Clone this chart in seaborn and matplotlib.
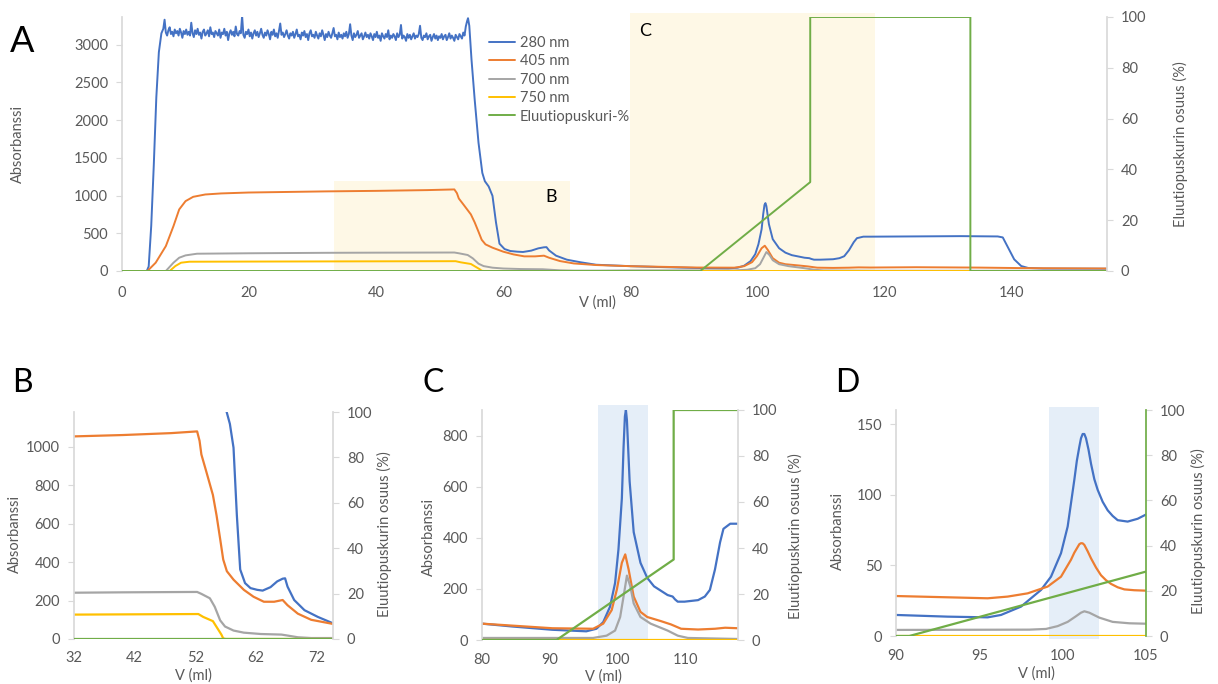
import numpy as np
import pandas as pd
import matplotlib
matplotlib.use("Agg")
import matplotlib.pyplot as plt
import seaborn as sns

# ---------------- main run (panels A, B, C) ----------------
# 280 nm: loading front, noisy saturated plateau, then wash / elution
v280_head = [0, 3.9, 4.2, 4.6, 5.0, 5.4, 5.8, 6.2]
a280_head = [0, 0, 60, 600, 1400, 2300, 2900, 3150]

plateau_start, plateau_end = 6.5, 54.3
a280_plateau = [
    3210, 3330, 3160, 3120, 3190, 3230, 3140, 3170, 3110, 3200, 3150, 3180, 3120, 3210, 3160, 3090, 3180, 3140, 3200, 3130,
    3170, 3120, 3290, 3150, 3100, 3190, 3140, 3210, 3130, 3160, 3080, 3170, 3200, 3120, 3150, 3190, 3110, 3230, 3140, 3160,
    3100, 3180, 3150, 3120, 3200, 3090, 3160, 3140, 3210, 3120, 3170, 3060, 3150, 3190, 3130, 3170, 3110, 3240, 3140, 3120,
    3180, 3150, 3380, 3130, 3090, 3170, 3140, 3200, 3110, 3160, 3080, 3150, 3190, 3120, 3170, 3100, 3150, 3210, 3130, 3090,
    3160, 3120, 3190, 3140, 3070, 3170, 3130, 3200, 3110, 3150, 3090, 3180, 3280, 3130, 3160, 3100, 3140, 3190, 3120, 3080,
    3150, 3120, 3170, 3090, 3140, 3200, 3110, 3130, 3070, 3160, 3120, 3180, 3100, 3140, 3060, 3150, 3190, 3110, 3130, 3090,
    3170, 3120, 3080, 3150, 3110, 3190, 3130, 3060, 3140, 3100, 3170, 3120, 3090, 3150, 3220, 3110, 3130, 3070, 3160, 3100,
    3130, 3080, 3150, 3110, 3170, 3090, 3140, 3270, 3120, 3060, 3150, 3100, 3130, 3180, 3090, 3120, 3150, 3070, 3110, 3160,
    3100, 3130, 3080, 3150, 3110, 3060, 3140, 3100, 3170, 3090, 3120, 3050, 3150, 3110, 3080, 3140, 3100, 3190, 3070, 3120,
    3090, 3140, 3110, 3060, 3150, 3100, 3130, 3260, 3080, 3120, 3100, 3050, 3140, 3090, 3130, 3070, 3110, 3150, 3080, 3120,
    3100, 3140, 3250, 3090, 3060, 3120, 3100, 3150, 3070, 3110, 3130, 3050, 3100, 3140, 3080, 3120, 3060, 3110, 3090, 3140,
    3070, 3110, 3130, 3060, 3100, 3150, 3080, 3120, 3090, 3050, 3130, 3100, 3070, 3140, 3110, 3080, 3160, 3120, 3240, 3310,
]

v280_tail = [54.45, 54.65, 55.0, 55.5, 56.1, 56.7, 57.1, 57.7, 58.3, 58.85, 59.4, 60.2, 61.1, 62.2, 63.1, 64.4,
             65.5, 66.4, 66.8, 67.2, 68.3, 70.0, 72.2, 74.6, 80, 84.4, 90.4, 95.4, 96.9, 97.9, 98.9, 99.65,
             100.15, 100.65, 100.9, 101.1, 101.25, 101.4, 101.8, 102.4, 103.4, 104.4, 105.4, 107.4, 108.15,
             108.5, 108.9, 109.9, 111.9, 112.9, 113.65, 114.4, 115.15, 115.65, 116.65, 117.8, 125, 132,
             137.8, 138.6, 139.3, 140.4, 141.5, 142.6, 145, 155]
a280_tail = [3350, 3250, 2800, 2270, 1700, 1300, 1190, 1120, 996, 644, 362, 291, 265, 256, 252, 270,
             300, 314, 316, 273, 203, 150, 115, 83, 64, 53, 40, 34, 44, 70, 130, 223,
             355, 554, 753, 875, 900, 860, 620, 422, 302, 243, 210, 176, 170,
             159, 150, 150, 156, 170, 196, 276, 382, 435, 455, 455, 458, 462,
             458, 445, 331, 154, 66, 40, 32, 30]

v405 = [0, 4.0, 5.3, 6.9, 8.1, 9.0, 10.0, 11.2, 13.1, 15.6, 19.9, 32, 40, 48, 52.3, 52.7, 53.0, 53.8,
        54.9, 55.5, 56.1, 56.6, 57.2, 58.3, 60.0, 61.6, 63.3, 65.0, 66.4, 67.2, 68.9, 71.1, 74.6, 80,
        90.4, 96.4, 97.9, 99.15, 99.9, 100.65, 101.15, 101.65, 102.4, 103.4, 104.4, 106.4, 107.9, 109.4,
        111.9, 114.4, 115.9, 117.8, 125, 135, 142, 155]
a405 = [0, 0, 110, 330, 595, 816, 926, 983, 1014, 1028, 1040, 1055, 1062, 1072, 1081, 1032, 961, 873,
        750, 644, 520, 414, 353, 309, 256, 220, 194, 194, 203, 176, 132, 100, 79, 64,
        46, 44, 64, 117, 196, 302, 335, 276, 170, 110, 90, 74, 61, 44,
        41, 44, 48, 46, 50, 45, 38, 33]

v700 = [0, 6.9, 8.1, 9.0, 10.0, 11.8, 20, 32, 40, 52.3, 53.0, 54.4, 55.2, 56.1, 56.9, 58.3, 60.0,
        62.8, 66.2, 67.2, 68.9, 71.1, 75, 80, 96.4, 98.4, 99.65, 100.4, 100.9, 101.4, 101.9, 102.4,
        103.4, 104.9, 107.4, 108.9, 110.4, 117.8, 155]
a700 = [0, 0, 110, 176, 207, 229, 235, 241, 243, 245, 235, 212, 168, 97, 65, 44, 33,
        26, 23, 18, 9, 5, 5, 8, 8, 17, 37, 90, 170, 252, 210, 143,
        90, 64, 37, 17, 8, 4, 3]

v750 = [0, 7.5, 8.4, 9.3, 10.6, 20, 32, 52.5, 53.3, 54.9, 55.7, 56.3, 56.6, 57.0, 155]
a750 = [0, 0, 66, 110, 123, 125, 127, 130, 115, 93, 53, 23, 3, 0, 0]

# elution buffer share (%)
v_elu = [0, 91, 108.3, 108.3, 133.5, 133.5, 155]
p_elu = [0, 0, 35, 100, 100, 0, 0]

# ---------------- second run (panel D) ----------------
d_v280 = [90, 93.1, 95.5, 96.3, 97.5, 98.7, 99.3, 99.9, 100.3, 100.7, 100.85, 101.0, 101.1, 101.2, 101.3,
          101.4, 101.55, 101.7, 101.9, 102.1, 102.4, 102.7, 103.0, 103.3, 103.9, 104.5, 105]
d_a280 = [14.9, 13.7, 13.2, 14.9, 20.8, 32.6, 42, 58.6, 77.5, 110.6, 124, 134, 140, 143, 143,
          140, 132, 122, 111, 103.5, 95, 89, 85, 82, 81, 83, 86]
d_v405 = [90, 93.1, 95.5, 96.7, 97.9, 99.1, 99.9, 100.5, 100.7, 100.9, 101.0, 101.1, 101.2, 101.3,
          101.5, 101.7, 102.0, 102.3, 102.6, 102.9, 103.3, 103.7, 104.3, 105]
d_a405 = [28.3, 27.4, 26.7, 27.9, 30.2, 35, 42, 54, 59, 63, 65, 65.7, 65.6, 64.5,
          60, 55, 48.5, 43, 39.5, 36.9, 34.5, 33, 32.4, 32.1]
d_v700 = [90, 98, 99, 99.7, 100.3, 100.8, 101.1, 101.3, 101.6, 102.2, 103, 104, 105]
d_a700 = [4.3, 4.5, 5, 7, 10, 14, 16.5, 17.5, 16.5, 13, 10, 9, 8.7]
d_v750 = [90, 105]
d_a750 = [0, 0]
d_v_elu = [90, 90.8, 105]
d_p_elu = [0, 0, 28.5]

series_names = ["280 nm", "405 nm", "700 nm", "750 nm"]
palette = {"280 nm": "#4472C4", "405 nm": "#ED7D31", "700 nm": "#A5A5A5", "750 nm": "#FFC000"}
green = "#70AD47"
text_grey = "#595959"
spine_grey = "#D9D9D9"


def long_frame(pairs):
    parts = []
    for name, (v, a) in zip(series_names, pairs):
        parts.append(pd.DataFrame({"V": v, "A": a, "series": name}))
    return pd.concat(parts, ignore_index=True)


v280 = v280_head + list(np.linspace(plateau_start, plateau_end, len(a280_plateau))) + v280_tail
a280 = a280_head + a280_plateau + a280_tail

main_df = long_frame([(v280, a280), (v405, a405), (v700, a700), (v750, a750)])
run2_df = long_frame([(d_v280, d_a280), (d_v405, d_a405), (d_v700, d_a700), (d_v750, d_a750)])

sns.set_theme(style="white")
plt.rcParams["font.family"] = ["Lato", "DejaVu Sans"]

fig = plt.figure(figsize=(12.18, 6.84), dpi=100)
W, H = 1218, 684


def px_axes(left, top, right, bottom):
    return fig.add_axes([left / W, 1 - bottom / H, (right - left) / W, (bottom - top) / H])


def draw_panel(ax, frame, ev, ep, xlim, ylim, xticks, yticks, lw=1.6, xpad=11):
    sns.lineplot(data=frame, x="V", y="A", hue="series", hue_order=series_names, palette=palette,
                 estimator=None, sort=False, lw=lw, ax=ax, legend=False)
    ax2 = ax.twinx()
    sns.lineplot(x=ev, y=ep, color=green, estimator=None, sort=False, lw=lw, ax=ax2)
    ax.set_xlim(*xlim)
    ax.set_ylim(*ylim)
    ax2.set_ylim(0, 100)
    ax.set_xticks(xticks)
    ax.set_yticks(yticks)
    ax2.set_yticks(range(0, 101, 20))
    for a in (ax, ax2):
        for s in a.spines.values():
            s.set_visible(False)
        a.set_xlabel("")
        a.set_ylabel("")
        a.tick_params(axis="y", length=4, width=0.8, color=spine_grey, labelcolor=text_grey,
                      labelsize=10.5, pad=6)
        a.tick_params(axis="x", length=0, labelcolor=text_grey, labelsize=10.5, pad=xpad)
    ax.spines["left"].set_visible(True)
    ax.spines["left"].set_color(spine_grey)
    ax2.spines["right"].set_visible(True)
    ax2.spines["right"].set_color(spine_grey)
    ax.set_facecolor("none")
    return ax2


def label_axes(ax, ax2, ylx, yly, ry, xlx, xly):
    ax.set_ylabel("Absorbanssi", color=text_grey, fontsize=10.5)
    ax.yaxis.set_label_coords(ylx, yly)
    ax2.set_ylabel("Eluutiopuskurin osuus (%)", color=text_grey, fontsize=10.5)
    ax2.yaxis.set_label_coords(ry, yly)
    ax.set_xlabel("V (ml)", color=text_grey, fontsize=10.5)
    ax.xaxis.set_label_coords(xlx, xly)


# ---- A: whole run ----
axA = px_axes(122, 17, 1107, 271)
axA.fill_between([33.4, 70.5], 0, 1195, color="#FEF8E6", lw=0, zorder=0)
axA.axvspan(79.9, 118.5, ymin=0, ymax=1.015, color="#FEF8E6", lw=0, zorder=0, clip_on=False)
axA2 = draw_panel(axA, main_df, v_elu, p_elu, (0, 155), (0, 3366), range(0, 141, 20), range(0, 3001, 500), lw=1.4)
label_axes(axA, axA2, -0.0985, 0.5, 1.067, 0.483, -0.095)
axA.text(67.5, 980, "B", fontsize=13, color="black", ha="center", va="center")
axA.text(82.3, 3175, "C", fontsize=13, color="black", ha="center", va="center")
handles = axA.get_lines()[:4] + axA2.get_lines()[:1]
fig.legend(handles, series_names + ["Eluutiopuskuri-%"], loc="upper left",
           bbox_to_anchor=(489 / W, 1 - 36 / H), frameon=False, fontsize=10.5, handlelength=1.8,
           handletextpad=0.3, labelspacing=0.3, borderpad=0, borderaxespad=0, labelcolor=text_grey)

# ---- B: end of loading / wash ----
axB = px_axes(74, 412, 333, 639)
axB2 = draw_panel(axB, main_df, v_elu, p_elu, (32, 74.7), (0, 1182), range(32, 73, 10), range(0, 1001, 200),
                  xpad=9)
label_axes(axB, axB2, -0.2, 0.463, 1.17, 0.46, -0.13)

# ---- C: gradient elution ----
axC = px_axes(482, 410, 738, 640)
axC.axvspan(97.1, 104.5, ymin=0, ymax=1.02, color="#E5EEF8", lw=0, zorder=0, clip_on=False)
axC2 = draw_panel(axC, main_df, v_elu, p_elu, (80, 117.8), (0, 900), range(80, 111, 10), range(0, 801, 200),
                  xpad=9)
label_axes(axC, axC2, -0.181, 0.45, 1.194, 0.473, -0.128)

# ---- D: elution peak of the second run ----
axD = px_axes(896, 410, 1146, 636)
axD.axvspan(99.2, 102.2, ymin=-0.012, ymax=1.012, color="#E5EEF8", lw=0, zorder=0, clip_on=False)
axD2 = draw_panel(axD, run2_df, d_v_elu, d_p_elu, (90, 105), (0, 160), range(90, 106, 5), range(0, 151, 50),
                  xpad=9)
axD2.spines["right"].set_color(green)
label_axes(axD, axD2, -0.204, 0.466, 1.18, 0.563, -0.134)

# panel letters
fig.text(22 / W, 1 - 42 / H, "A", fontsize=26, ha="center", va="center", color="black")
fig.text(22 / W, 1 - 383 / H, "B", fontsize=23, ha="center", va="center", color="black")
fig.text(433 / W, 1 - 383 / H, "C", fontsize=23, ha="center", va="center", color="black")
fig.text(847 / W, 1 - 383 / H, "D", fontsize=23, ha="center", va="center", color="black")

fig.savefig("out.png", dpi=100, facecolor="white")
